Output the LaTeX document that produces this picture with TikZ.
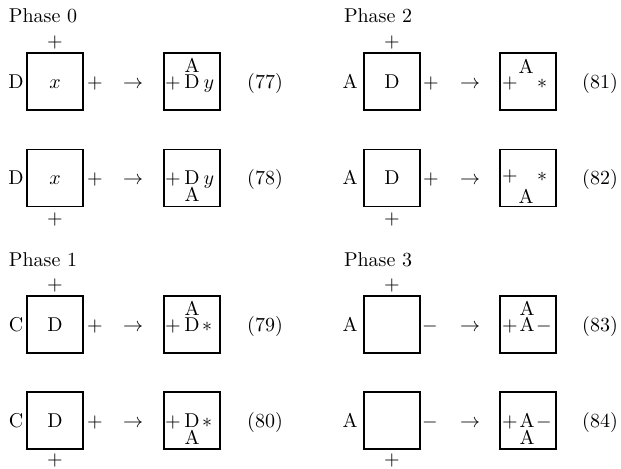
\documentclass[tikz,border=0pt]{standalone}
\begin{document}
\begin{tikzpicture}[x=0.5pt,y=-0.5pt,
  tx/.style={inner sep=0pt, outer sep=0pt, anchor=base},
  sq/.style={draw, line width=0.75pt, minimum width=28pt, minimum height=28.5pt, inner sep=0pt}]
\useasboundingbox (0,0) rectangle (621,469);
% ---------- Phase labels ----------
\node[tx, anchor=base west] (ph0) at (9,23) {Phase 0};
\node[tx, anchor=base west] (ph1) at (9,267) {Phase 1};
\node[tx, anchor=base west] (ph2) at (344,23) {Phase 2};
\node[tx, anchor=base west] (ph3) at (344,267) {Phase 3};
% ---------- (77) ----------
\node[sq] (b77) at (55,81.5) {};
\node[tx] (l77) at (16,88.5) {D};
\node[tx] (c77) at (55,88.5) {$x$};
\node[tx] (t77) at (55,48) {$+$};
\node[tx] (r77) at (95,88.5) {$+$};
\node[tx] (a77) at (133,88.5) {$\rightarrow$};
\node[sq] (s77) at (192,81.5) {};
\node[tx] (sp77) at (173,88.5) {$+$};
\node[tx] (sm77) at (192,88.5) {D};
\node[tx] (sr77) at (209,88.5) {$y$};
\node[tx] (sa77) at (192,72.5) {A};
\node[tx] (e77) at (265,88.5) {(77)};
% ---------- (78) ----------
\node[sq] (b78) at (55,178) {};
\node[tx] (l78) at (16,185) {D};
\node[tx] (c78) at (55,185) {$x$};
\node[tx] (d78) at (55,225) {$+$};
\node[tx] (r78) at (95,185) {$+$};
\node[tx] (a78) at (133,185) {$\rightarrow$};
\node[sq] (s78) at (192,178) {};
\node[tx] (sp78) at (173,185) {$+$};
\node[tx] (sm78) at (192,185) {D};
\node[tx] (sr78) at (209,185) {$y$};
\node[tx] (sa78) at (192,202) {A};
\node[tx] (e78) at (265,185) {(78)};
% ---------- (79) ----------
\node[sq] (b79) at (55,324.5) {};
\node[tx] (l79) at (16,331.5) {C};
\node[tx] (c79) at (55,331.5) {D};
\node[tx] (t79) at (55,291) {$+$};
\node[tx] (r79) at (95,331.5) {$+$};
\node[tx] (a79) at (133,331.5) {$\rightarrow$};
\node[sq] (s79) at (192,324.5) {};
\node[tx] (sp79) at (173,331.5) {$+$};
\node[tx] (sm79) at (192,331.5) {D};
\node[tx] (sr79) at (207,331.5) {$\ast$};
\node[tx] (sa79) at (192,315.5) {A};
\node[tx] (e79) at (265,331.5) {(79)};
% ---------- (80) ----------
\node[sq] (b80) at (55,420.5) {};
\node[tx] (l80) at (16,427.5) {C};
\node[tx] (c80) at (55,427.5) {D};
\node[tx] (d80) at (55,466) {$+$};
\node[tx] (r80) at (95,427.5) {$+$};
\node[tx] (a80) at (133,427.5) {$\rightarrow$};
\node[sq] (s80) at (192,420.5) {};
\node[tx] (sp80) at (173,427.5) {$+$};
\node[tx] (sm80) at (192,427.5) {D};
\node[tx] (sr80) at (207,427.5) {$\ast$};
\node[tx] (sa80) at (192,444.5) {A};
\node[tx] (e80) at (265,427.5) {(80)};
% ---------- (81) ----------
\node[sq] (b81) at (392,81.5) {};
\node[tx] (l81) at (350,88.5) {A};
\node[tx] (c81) at (392,88.5) {D};
\node[tx] (t81) at (392,48) {$+$};
\node[tx] (r81) at (431,88.5) {$+$};
\node[tx] (a81) at (470,88.5) {$\rightarrow$};
\node[sq] (s81) at (528,81.5) {};
\node[tx] (sp81) at (510,88.5) {$+$};
\node[tx] (sr81) at (542,88.5) {$\ast$};
\node[tx] (sa81) at (526,73.5) {A};
\node[tx] (e81) at (600,88.5) {(81)};
% ---------- (82) ----------
\node[sq] (b82) at (392,178) {};
\node[tx] (l82) at (350,185) {A};
\node[tx] (c82) at (392,185) {D};
\node[tx] (d82) at (392,225) {$+$};
\node[tx] (r82) at (431,185) {$+$};
\node[tx] (a82) at (470,185) {$\rightarrow$};
\node[sq] (s82) at (528,178) {};
\node[tx] (sp82) at (510,182) {$+$};
\node[tx] (sr82) at (542,182) {$\ast$};
\node[tx] (sa82) at (526,204) {A};
\node[tx] (e82) at (600,185) {(82)};
% ---------- (83) ----------
\node[sq] (b83) at (392,324.5) {};
\node[tx] (l83) at (350,331.5) {A};
\node[tx] (t83) at (392,291) {$+$};
\node[tx] (r83) at (430,331.5) {$-$};
\node[tx] (a83) at (470,331.5) {$\rightarrow$};
\node[sq] (s83) at (528,324.5) {};
\node[tx] (sp83) at (510,331.5) {$+$};
\node[tx] (sm83) at (527,331.5) {A};
\node[tx] (sr83) at (544,331.5) {$-$};
\node[tx] (sa83) at (527,315.5) {A};
\node[tx] (e83) at (600,331.5) {(83)};
% ---------- (84) ----------
\node[sq] (b84) at (392,420.5) {};
\node[tx] (l84) at (350,427.5) {A};
\node[tx] (d84) at (392,466) {$+$};
\node[tx] (r84) at (430,427.5) {$-$};
\node[tx] (a84) at (470,427.5) {$\rightarrow$};
\node[sq] (s84) at (528,420.5) {};
\node[tx] (sp84) at (510,427.5) {$+$};
\node[tx] (sm84) at (527,427.5) {A};
\node[tx] (sr84) at (544,427.5) {$-$};
\node[tx] (sa84) at (527,444.5) {A};
\node[tx] (e84) at (600,427.5) {(84)};
\end{tikzpicture}
\end{document}
